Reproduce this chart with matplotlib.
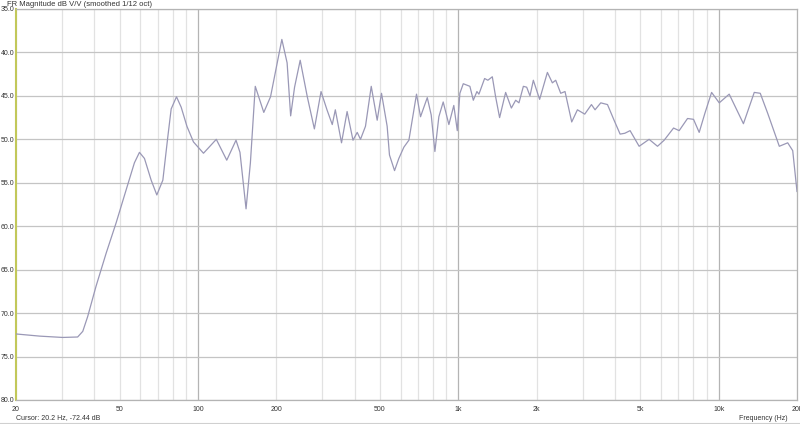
import numpy as np
import matplotlib.pyplot as plt
from matplotlib.ticker import FixedLocator, FuncFormatter

plt.rcParams['font.family'] = ['Liberation Sans', 'DejaVu Sans']

# frequency response (Hz, dB)
freq = [20, 24.7, 30.2, 34.5, 36.1, 37.7, 40.6, 44.4, 48.5, 53.0, 57.0, 59.6, 62.3,
        66.1, 69.5, 73.3, 76.6, 78.9, 82.7, 86.2, 90.7, 96.1, 105, 117.6, 129, 140,
        145, 153, 159, 166, 179, 190, 210, 220, 227, 235, 247, 263, 280, 297, 313,
        328, 337, 356, 374, 394, 409, 421, 440, 463, 488, 507, 533, 544, 569, 591,
        618, 646, 691, 716, 760, 787, 813, 842, 875, 920, 961, 991, 1014, 1045,
        1108, 1142, 1179, 1200, 1262, 1299, 1351, 1391, 1441, 1520, 1599, 1661,
        1710, 1778, 1831, 1885, 1942, 2053, 2199, 2298, 2367, 2474, 2570, 2727,
        2868, 3060, 3247, 3352, 3526, 3742, 3966, 4184, 4362, 4570, 4950, 5406,
        5824, 6177, 6712, 7053, 7596, 8010, 8420, 8856, 9397, 10054, 10980, 12452,
        13704, 14450, 15432, 17102, 18420, 19256, 20000]
mag = [72.4, 72.65, 72.8, 72.75, 72.1, 70.4, 66.9, 63.1, 59.6, 55.8, 52.7, 51.5, 52.2,
       54.7, 56.4, 54.7, 49.7, 46.5, 45.1, 46.3, 48.5, 50.3, 51.6, 50.0, 52.4, 50.1,
       51.5, 58.0, 52.7, 43.9, 46.9, 45.1, 38.5, 41.2, 47.3, 44.0, 40.9, 45.1, 48.8,
       44.5, 46.6, 48.3, 46.6, 50.4, 46.8, 50.1, 49.2, 50.0, 48.5, 43.9, 47.8, 44.7,
       48.5, 51.8, 53.6, 52.2, 50.9, 50.1, 44.8, 47.4, 45.2, 47.2, 51.4, 47.4, 45.7,
       48.3, 46.1, 49.0, 44.7, 43.6, 43.9, 45.5, 44.5, 44.8, 43.0, 43.2, 42.8, 45.1,
       47.5, 44.6, 46.4, 45.5, 45.8, 43.9, 44.0, 45.0, 43.2, 45.4, 42.3, 43.5, 43.2,
       44.7, 44.5, 48.0, 46.6, 47.1, 46.0, 46.6, 45.8, 46.0, 47.8, 49.4, 49.3, 49.0,
       50.8, 50.0, 50.8, 50.1, 48.7, 49.0, 47.6, 47.7, 49.2, 47.0, 44.6, 45.8, 44.8,
       48.2, 44.6, 44.7, 47.0, 50.8, 50.4, 51.3, 56.0]
mag = [-m for m in mag]

x_ticks = [20, 50, 100, 200, 500, 1000, 2000, 5000, 10000, 20000]
x_tick_labels = ["20", "50", "100", "200", "500", "1k", "2k", "5k", "10k", "20k"]
y_ticks = np.arange(-80, -34, 5)

fig = plt.figure(figsize=(8, 4.24), dpi=100)
ax = fig.add_axes([16/800, 24/424, 781/800, 391/424])

# grid: light minor verticals, darker decades and 5 dB lines
minor = [f for d in (10, 100, 1000, 10000) for f in np.arange(2, 10) * d if 20 <= f <= 20000]
for f in minor:
    ax.axvline(f, color="#e2e2e2", lw=0.9, zorder=1)
for f in (100, 1000, 10000):
    ax.axvline(f, color="#b4b4b4", lw=0.9, zorder=1)
for v in y_ticks:
    ax.axhline(v, color="#c4c4c4", lw=0.9, zorder=1)

ax.plot(freq, mag, color="#9a98b6", lw=0.9, zorder=3)

ax.set_xscale("log")
ax.set_xlim(20, 20000)
ax.set_ylim(-80, -35)
ax.xaxis.set_major_locator(FixedLocator(x_ticks))
ax.xaxis.set_minor_locator(FixedLocator([]))
ax.set_xticklabels(x_tick_labels)
ax.yaxis.set_major_locator(FixedLocator(y_ticks))
ax.yaxis.set_major_formatter(FuncFormatter(lambda v, p: f"{-v:.1f}"))
ax.tick_params(length=0, labelsize=5, colors="#333333", pad=4)
ax.tick_params(axis="y", pad=1)

for s in ("top", "right", "bottom"):
    ax.spines[s].set_color("#b4b4b4")
    ax.spines[s].set_linewidth(0.9)
ax.spines["left"].set_color("#c2c85a")
ax.spines["left"].set_linewidth(1.5)

fig.text(7/800, 1 - 4/424, "FR Magnitude dB V/V (smoothed 1/12 oct)", fontsize=5.5,
         color="#333333", va="center", ha="left")
fig.text(16/800, 1 - 418/424, "Cursor: 20.2 Hz, -72.44 dB", fontsize=5,
         color="#333333", va="center", ha="left")
fig.text(788/800, 1 - 418/424, "Frequency (Hz)", fontsize=5,
         color="#333333", va="center", ha="right")
fig.add_artist(plt.Line2D([0, 1], [1/424, 1/424], color="#d0d0d0", lw=0.8))

fig.savefig("out.png", dpi=100)
